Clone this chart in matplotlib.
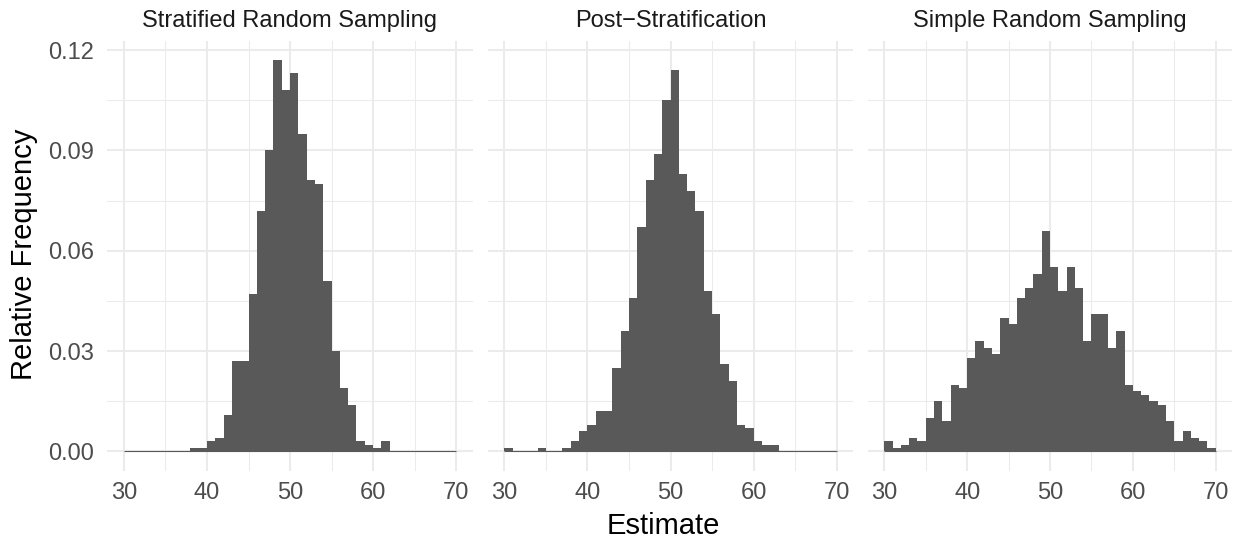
import matplotlib
matplotlib.use("Agg")
import matplotlib.pyplot as plt
import numpy as np

plt.rcParams['font.family'] = ['Liberation Sans', 'DejaVu Sans']

# ---- data ----
panel_titles = ["Stratified Random Sampling", "Post\u2212Stratification", "Simple Random Sampling"]
bin_edges = list(range(30, 71))  # 40 bins of width 1
x_ticks = [30, 40, 50, 60, 70]
y_ticks = [0.00, 0.03, 0.06, 0.09, 0.12]
y_tick_labels = ["0.00", "0.03", "0.06", "0.09", "0.12"]

# relative frequency per bin, bins 30..69
strat_freq = [0, 0, 0, 0, 0, 0, 0, 0, 0.001, 0.001,
              0.003, 0.004, 0.011, 0.027, 0.027, 0.047, 0.072, 0.090, 0.117, 0.108,
              0.113, 0.095, 0.081, 0.080, 0.051, 0.030, 0.019, 0.014, 0.003, 0.002,
              0.001, 0.003, 0, 0, 0, 0, 0, 0, 0, 0]
post_freq = [0.001, 0, 0, 0, 0.001, 0, 0, 0.001, 0.003, 0.006,
             0.008, 0.012, 0.012, 0.025, 0.036, 0.046, 0.067, 0.081, 0.089, 0.105,
             0.114, 0.083, 0.078, 0.072, 0.048, 0.041, 0.026, 0.021, 0.008, 0.007,
             0.003, 0.002, 0.002, 0, 0, 0, 0, 0, 0, 0]
srs_freq = [0.003, 0.001, 0.002, 0.004, 0.003, 0.010, 0.015, 0.009, 0.020, 0.019,
            0.028, 0.033, 0.031, 0.029, 0.040, 0.038, 0.046, 0.049, 0.053, 0.066,
            0.055, 0.048, 0.055, 0.049, 0.033, 0.041, 0.041, 0.031, 0.036, 0.020,
            0.018, 0.017, 0.015, 0.014, 0.009, 0.003, 0.006, 0.004, 0.003, 0.001]
series = [strat_freq, post_freq, srs_freq]

W, H = 1239, 542
fig = plt.figure(figsize=(W / 100, H / 100), dpi=100)

panel_x = [(107.4, 472.6), (487.7, 853.3), (867.7, 1232.3)]
top_px, bot_px = 40.5, 471.0

bar_color = "#595959"
grid_color = "#EBEBEB"
edges = np.array(bin_edges, dtype=float)

for i, (title, vals) in enumerate(zip(panel_titles, series)):
    x0, x1 = panel_x[i]
    ax = fig.add_axes([x0 / W, 1 - bot_px / H, (x1 - x0) / W, (bot_px - top_px) / H])
    ax.set_xlim(28, 72)
    ax.set_ylim(-0.00585, 0.12285)
    ax.set_facecolor("white")
    for s in ax.spines.values():
        s.set_visible(False)
    # grid
    for xv in x_ticks:
        ax.axvline(xv, color=grid_color, lw=1.5, zorder=0)
    for xv in [35, 45, 55, 65]:
        ax.axvline(xv, color=grid_color, lw=0.75, zorder=0)
    for yv in y_ticks:
        ax.axhline(yv, color=grid_color, lw=1.5, zorder=0)
    for yv in [0.015, 0.045, 0.075, 0.105]:
        ax.axhline(yv, color=grid_color, lw=0.75, zorder=0)
    ax.hlines(0, edges[0], edges[-1], color=bar_color, lw=0.8, zorder=2)
    ax.stairs(vals, edges, fill=True, color=bar_color, linewidth=0, zorder=3)
    ax.set_xticks(x_ticks)
    ax.set_xticklabels([str(v) for v in x_ticks])
    ax.set_yticks(y_ticks)
    if i == 0:
        ax.set_yticklabels(y_tick_labels)
    else:
        ax.set_yticklabels([])
    ax.tick_params(length=0, labelsize=17, labelcolor="#4D4D4D")
    ax.tick_params(axis="x", pad=8)
    ax.tick_params(axis="y", pad=9.5)
    fig.text((x0 + x1) / 2 / W, 1 - 26.7 / H, title, ha="center", va="baseline",
             fontsize=17, color="#1A1A1A")

fig.text(663 / W, 1 - 534 / H, "Estimate", ha="center", va="baseline", fontsize=21, color="black")
fig.text(24 / W, 1 - 254 / H, "Relative Frequency", ha="center", va="center", rotation=90,
         fontsize=21, color="black")

fig.savefig("out.png", dpi=100, facecolor="white")
